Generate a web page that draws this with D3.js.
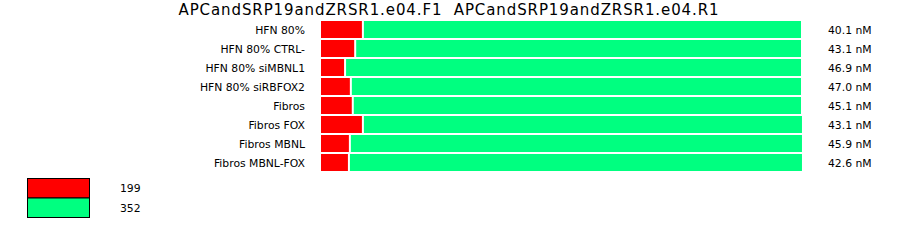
<!DOCTYPE html>
<html>
<head>
<meta charset="utf-8">
<script src="https://cdn.jsdelivr.net/npm/d3@7"></script>
<style>
  html, body { margin: 0; padding: 0; background: #fff; }
  svg { display: block; }
  text { font-family: "DejaVu Sans", Verdana, sans-serif; fill: #000; }
</style>
</head>
<body>
<svg id="chart" width="900" height="242"></svg>
<script>
const title = "APCandSRP19andZRSR1.e04.F1\u00a0\u00a0APCandSRP19andZRSR1.e04.R1";
const samples = ["HFN 80%", "HFN 80% CTRL-", "HFN 80% siMBNL1", "HFN 80% siRBFOX2",
                 "Fibros", "Fibros FOX", "Fibros MBNL", "Fibros MBNL-FOX"];
// percentage of each product per sample
const product199 = [8.9, 7.3, 5.2, 6.4, 6.8, 8.9, 6.2, 6.0];
const product352 = [91.1, 92.7, 94.8, 93.6, 93.2, 91.3, 94.0, 94.2];
const concentrations = ["40.1 nM", "43.1 nM", "46.9 nM", "47.0 nM", "45.1 nM", "43.1 nM", "45.9 nM", "42.6 nM"];
const productNames = ["199", "352"];
const productColors = ["#ff0000", "#00ff80"];

const svg = d3.select("#chart");

const x = d3.scaleLinear().domain([0, 100]).range([321, 803]);
const y = d3.scaleBand().domain(samples).range([21, 171]).paddingInner(2 / 19).paddingOuter(0);

svg.append("text")
  .attr("x", 449).attr("y", 15)
  .attr("text-anchor", "middle")
  .style("font-size", "15px")
  .style("letter-spacing", "0.9px")
  .text(title);

const series = [product199, product352];
samples.forEach((s, i) => {
  let acc = 0;
  series.forEach((vals, k) => {
    const x0 = x(acc), x1 = x(acc + vals[i]);
    svg.append("rect")
      .attr("x", x0)
      .attr("y", y(s))
      .attr("width", Math.max(0, x1 - x0 - 2))
      .attr("height", y.bandwidth())
      .attr("fill", productColors[k]);
    acc += vals[i];
  });
});

svg.append("g").selectAll("text").data(samples).join("text")
  .attr("x", 305)
  .attr("y", d => y(d) + y.bandwidth() / 2 + 4)
  .attr("text-anchor", "end")
  .style("font-size", "10.8px")
  .text(d => d);

svg.append("g").selectAll("text").data(concentrations).join("text")
  .attr("x", 828)
  .attr("y", (d, i) => y(samples[i]) + y.bandwidth() / 2 + 4)
  .style("font-size", "10.8px")
  .text(d => d);

const legend = svg.append("g");
productNames.forEach((n, k) => {
  legend.append("rect")
    .attr("x", 27.5).attr("y", 178.5 + k * 19.5)
    .attr("width", 62).attr("height", 19.5)
    .attr("fill", productColors[k])
    .attr("stroke", "#000").attr("stroke-width", 1);
  legend.append("text")
    .attr("x", 120).attr("y", 192 + k * 20)
    .style("font-size", "10.8px")
    .text(n);
});
</script>
</body>
</html>
